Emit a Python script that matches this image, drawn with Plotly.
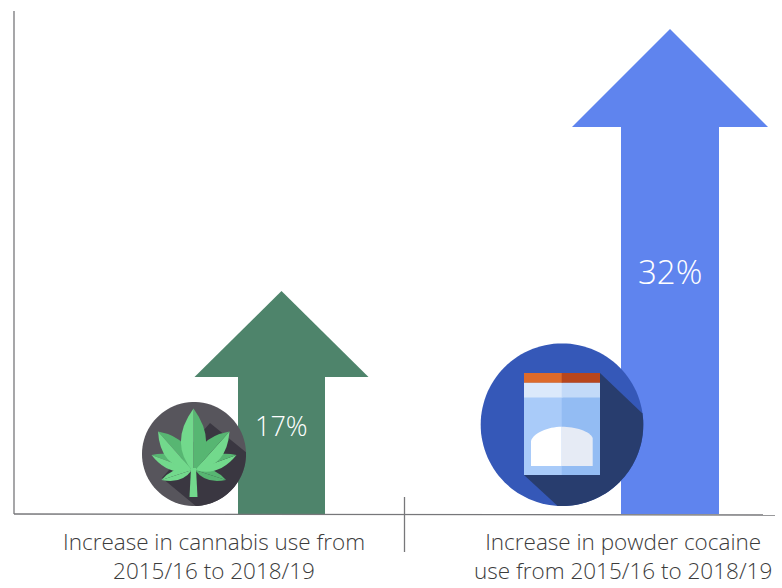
import math
import plotly.graph_objects as go

# Survey results shown on the chart
categories = ["Increase in cannabis use from<br>2015/16 to 2018/19",
              "Increase in powder cocaine<br>use from 2015/16 to 2018/19"]
increase_pct = [17, 32]
value_labels = ["17%", "32%"]
arrow_colors = ["#4e846b", "#5f84ee"]

# Arrow geometry, x in canvas units, lengths on the value axis
centers = [281.5, 670]
shaft_widths = [87, 98]
head_widths = [174, 196]
head_lengths = [4.92, 5.61]
label_values = [9.33, 18.09]
label_sizes = [27, 33]

W, H = 782, 588
AXIS_TOP = 33.66
BASELINE = 4.23

fig = go.Figure()

# Arrow shafts and heads
for c, v, col, sw, hw, hl in zip(centers, increase_pct, arrow_colors,
                                 shaft_widths, head_widths, head_lengths):
    fig.add_trace(go.Bar(x=[c], y=[v - hl - BASELINE + 0.03], base=BASELINE, width=sw,
                         marker=dict(color=col, line=dict(width=0)),
                         hoverinfo="skip", showlegend=False))
    fig.add_trace(go.Scatter(x=[c - hw / 2, c, c + hw / 2, c - hw / 2],
                             y=[v - hl, v, v - hl, v - hl],
                             mode="lines", fill="toself", fillcolor=col,
                             line=dict(width=0), hoverinfo="skip", showlegend=False))


def path(points, close=True):
    d = "M" + " L".join(f"{x:.1f},{y:.1f}" for x, y in points)
    return d + (" Z" if close else "")


def arc(cx, cy, r, a0, a1, n=40):
    return [(cx + r * math.cos(math.radians(a0 + (a1 - a0) * i / n)),
             cy + r * math.sin(math.radians(a0 + (a1 - a0) * i / n))) for i in range(n + 1)]


shapes = []


def add(d, color, layer="above"):
    shapes.append(dict(type="path", path=d, xref="x", yref="y2", fillcolor=color,
                       line=dict(width=0), layer=layer))


def line(x0, y0, x1, y1, color="#77777a", width=1.3):
    shapes.append(dict(type="line", x0=x0, y0=y0, x1=x1, y1=y1, xref="x", yref="y2",
                       line=dict(color=color, width=width), layer="above"))


def leaf(tip, base, half):
    # Pointed leaf from base to tip, split along the midrib
    tx, ty = tip
    bx, by = base
    dx, dy = tx - bx, ty - by
    ln = math.hypot(dx, dy)
    nx, ny = -dy / ln, dx / ln
    mx, my = bx + dx * 0.45, by + dy * 0.45
    a = (mx + nx * half * 2.1, my + ny * half * 2.1)
    b = (mx - nx * half * 2.1, my - ny * half * 2.1)
    side1 = f"M{bx:.1f},{by:.1f} Q{a[0]:.1f},{a[1]:.1f} {tx:.1f},{ty:.1f} Z"
    side2 = f"M{bx:.1f},{by:.1f} Q{b[0]:.1f},{b[1]:.1f} {tx:.1f},{ty:.1f} Z"
    return side1, side2


# Cannabis badge
add(path(arc(194, 454, 52, 0, 360, 90)), "#57555c")
add(path([(210, 423)] + arc(194, 454, 52, -2, 88, 40) + [(162, 478)]), "#3a3741")
L, D = "#72d98c", "#57b672"
for tip, base, half, c1, c2 in [
    ((161.5, 480), (192, 470), 5, L, L),
    ((226, 480), (195, 470), 5, D, D),
    ((151.5, 455), (192, 470), 7, D, L),
    ((236.5, 455), (195, 470), 7, L, D),
    ((158, 431.5), (192, 470), 10.5, D, L),
    ((229.5, 431.5), (195, 470), 10.5, L, D),
    ((193.5, 408.5), (193.5, 472), 12, D, L),
]:
    s1, s2 = leaf(tip, base, half)
    add(s1, c1)
    add(s2, c2)
add("M191,468 L196,468 L197.5,497 L189.5,497 Z", L)

# Powder bag badge
add(path(arc(562, 424.7, 81.3, 0, 360, 120)), "#3558b8")
add(path([(600, 373)] + arc(562, 424.7, 81.3, -8, 93, 40) + [(524, 475)]), "#283d6e")
add("M524,373 H562.5 V475 H524 Z", "#a9cbf9")
add("M561.7,373 H600 V475 H561.7 Z", "#93bcf3")
add("M524,383 H562.5 V397.5 H524 Z", "#dbe9fb")
add("M561.7,383 H600 V397.5 H561.7 Z", "#c3daf8")
add("M524,373 H562.5 V382.7 H524 Z", "#dd6a2a")
add("M561.7,373 H600 V382.7 H561.7 Z", "#b8461c")
add("M531,466 V441 C533,433 548,426.7 561.7,426.7 V466 Z", "#ffffff")
add("M561.7,466 V426.7 C575,426.7 590,431 592.7,438 V466 Z", "#e6ebf5")

# Axis lines and the divider between the two groups
line(14, 11, 14, 514)
line(14, 514, 775, 515)
line(404.5, 497, 404.5, 552)

annotations = []
FONT = "Open Sans"
for c, v, lab, size, x_text, cat in zip(centers, label_values, value_labels, label_sizes,
                                        [213.5, 623], categories):
    annotations.append(dict(x=c, y=v, xref="x", yref="y", text=lab, showarrow=False,
                            font=dict(family=FONT, size=size, color="#ffffff", weight=300)))
    annotations.append(dict(x=x_text, y=587.9, xref="x", yref="y2", yanchor="bottom",
                            text=cat, showarrow=False, align="center",
                            font=dict(family=FONT, size=22.5, color="#3c3c3c", weight=300)))

fig.update_layout(
    width=W, height=H, margin=dict(l=0, r=0, t=0, b=0),
    paper_bgcolor="#ffffff", plot_bgcolor="#ffffff",
    xaxis=dict(range=[0, W], visible=False, fixedrange=True),
    yaxis=dict(range=[0, AXIS_TOP], visible=False, fixedrange=True),
    yaxis2=dict(range=[H, 0], overlaying="y", visible=False, fixedrange=True),
    shapes=shapes, annotations=annotations, bargap=0, showlegend=False,
)
# An empty trace keeps the secondary axis active for the badge shapes
fig.add_trace(go.Scatter(x=[None], y=[None], yaxis="y2", showlegend=False, hoverinfo="skip"))

fig.write_html("out.html", config={"displayModeBar": False})
